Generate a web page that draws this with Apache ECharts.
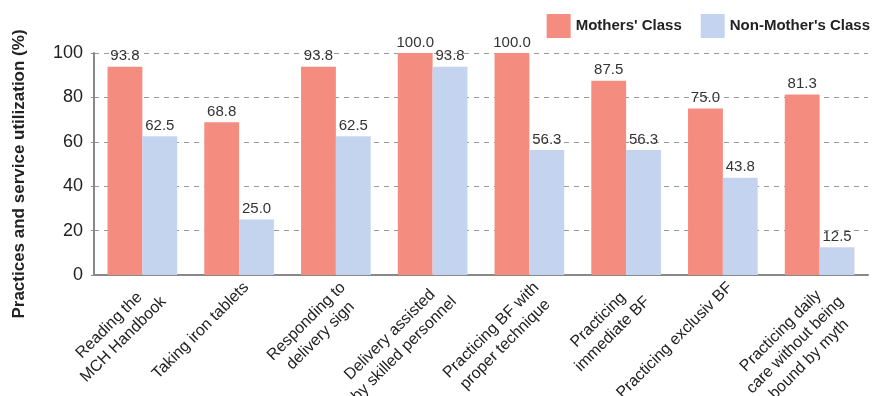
<!DOCTYPE html>
<html><head><meta charset="utf-8">
<script src="https://cdn.jsdelivr.net/npm/echarts@6/dist/echarts.min.js"></script>
<style>html,body{margin:0;padding:0;background:#fff}#c{width:875px;height:396px}</style>
</head><body><div id="c"></div>
<script>
var categories = ["Reading the\nMCH Handbook","Taking iron tablets","Responding to\ndelivery sign","Delivery assisted\nby skilled personnel","Practicing BF with\nproper technique","Practicing\nimmediate BF","Practicing exclusiv BF","Practicing daily\ncare without being\nbound by myth"];
var mothersClass = [93.8, 68.8, 93.8, 100.0, 100.0, 87.5, 75.0, 81.3];
var nonMothersClass = [62.5, 25.0, 62.5, 93.8, 56.3, 56.3, 43.8, 12.5];
var seriesNames = ["Mothers' Class", "Non-Mother's Class"];
var yTicks = [0, 20, 40, 60, 80, 100];

var chart = echarts.init(document.getElementById('c'));
var font = 'Liberation Sans, Arial, Helvetica, sans-serif';
var lbl = {show:true, position:'top', distance:3, fontSize:15, color:'#333', fontFamily:font,
  formatter:function(p){return p.value.toFixed(1);}};
chart.setOption({
  animation:false,
  textStyle:{fontFamily:font},
  legend:{right:0, top:9, itemWidth:24, itemHeight:24, itemGap:19, icon:'rect',
    textStyle:{fontSize:15, fontWeight:'bold', color:'#222', fontFamily:font},
    data:seriesNames},
  grid:{left:94, right:7, top:53, bottom:121, containLabel:false, outerBoundsMode:'none'},
  xAxis:{type:'category', data:categories,
    axisLine:{show:true, lineStyle:{color:'#888', width:2}},
    axisTick:{show:false},
    axisLabel:{rotate:45, interval:0, fontSize:16, color:'#222', margin:3, lineHeight:20,
      align:'right', verticalAlign:'top', fontFamily:font,
      formatter:function(v){return v.split('\n').map(function(s){return '{c|'+s+'}';}).join('\n');},
      rich:{c:{align:'center', fontSize:16, lineHeight:20, color:'#222', fontFamily:font}}}},
  yAxis:{type:'value', min:yTicks[0], max:yTicks[yTicks.length-1], interval:20,
    name:'Practices and service utilization (%)', nameLocation:'middle', nameGap:66,
    nameTextStyle:{fontSize:17, fontWeight:'bold', color:'#222', fontFamily:font, padding:[0,20,0,0]},
    axisLine:{show:true, lineStyle:{color:'#888', width:2}},
    axisTick:{show:true, length:3, lineStyle:{color:'#888'}},
    axisLabel:{fontSize:18, color:'#222', margin:11, fontFamily:font},
    splitLine:{show:true, lineStyle:{color:'#999', type:[5,5], width:1}}},
  series:[
    {name:seriesNames[0], type:'bar', data:mothersClass, barGap:'0%', barCategoryGap:'28%',
     itemStyle:{color:'#F48C7F'}, label:lbl},
    {name:seriesNames[1], type:'bar', data:nonMothersClass,
     itemStyle:{color:'#C5D4EE'}, label:lbl}
  ]
});
</script></body></html>
